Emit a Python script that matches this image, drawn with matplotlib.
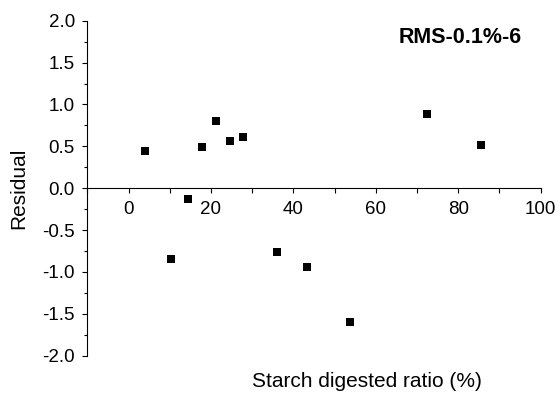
import matplotlib
matplotlib.use("Agg")
import matplotlib.pyplot as plt
from matplotlib.ticker import MultipleLocator, FormatStrFormatter

plt.rcParams["font.family"] = ["Liberation Sans", "DejaVu Sans"]

# residuals
digested = [3.9, 10.4, 14.3, 17.8, 21.2, 24.7, 27.7, 36.0, 43.2, 53.8, 72.4, 85.4]
residual = [0.445, -0.84, -0.13, 0.49, 0.80, 0.565, 0.61, -0.757, -0.945, -1.60, 0.887, 0.513]

fig = plt.figure(figsize=(5.6, 3.98), dpi=100)
ax = fig.add_axes([0.156, 0.1063, 0.8095, 0.8417])

ax.plot(digested, residual, "s", color="black", markersize=5.2, markeredgewidth=0)

ax.set_xlim(-10, 100)
ax.set_ylim(-2, 2)

ax.spines["top"].set_visible(False)
ax.spines["right"].set_visible(False)
ax.spines["bottom"].set_position(("data", 0))
for s in ("left", "bottom"):
    ax.spines[s].set_linewidth(0.8)

ax.xaxis.set_major_locator(MultipleLocator(20))
ax.xaxis.set_minor_locator(MultipleLocator(10))
ax.yaxis.set_major_locator(MultipleLocator(0.5))
ax.yaxis.set_minor_locator(MultipleLocator(0.25))
ax.set_xticks([0, 20, 40, 60, 80, 100])
ax.yaxis.set_major_formatter(FormatStrFormatter("%.1f"))

ax.tick_params(axis="both", which="major", direction="out", length=3.4, width=0.8,
               labelsize=13.5)
ax.tick_params(axis="both", which="minor", direction="out", length=3.4, width=0.8)
ax.tick_params(axis="y", which="minor", length=2.2)
ax.tick_params(axis="x", which="major", pad=5.5)
ax.tick_params(axis="y", which="major", pad=5.5)

ax.set_ylabel("Residual", fontsize=15)
ax.yaxis.set_label_coords(-0.13, 0.5)
ax.set_xlabel("Starch digested ratio (%)", fontsize=15)
ax.xaxis.set_label_coords(0.616, -0.05)

ax.text(0.958, 0.951, "RMS-0.1%-6", transform=ax.transAxes, ha="right", va="center",
        fontsize=15.5, fontweight="bold")

fig.savefig("out.png", dpi=100)
